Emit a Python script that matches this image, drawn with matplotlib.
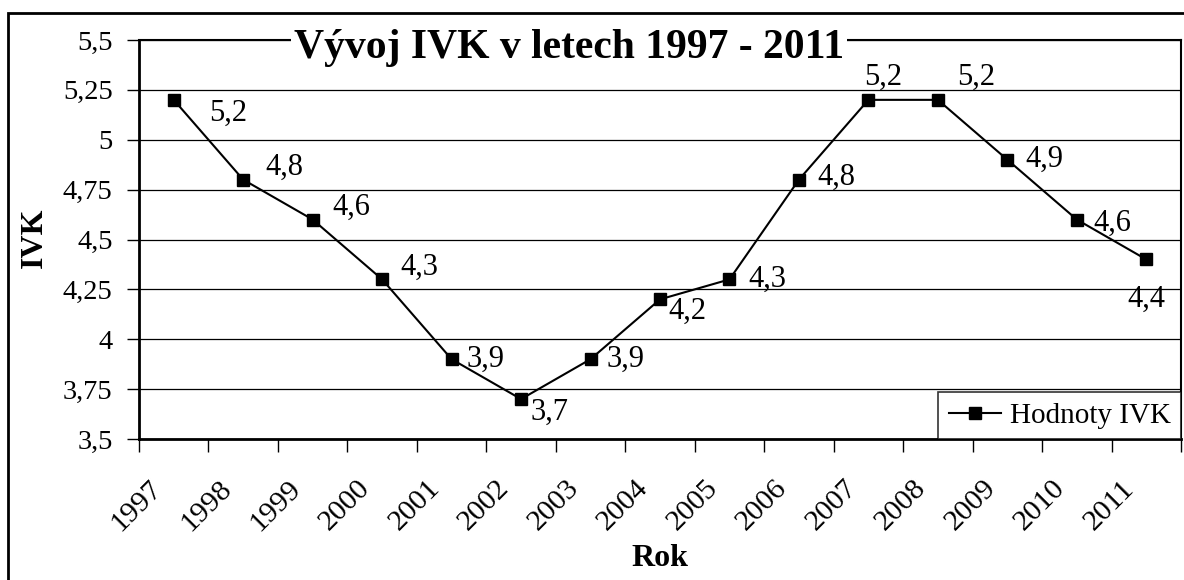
import matplotlib.pyplot as plt
import matplotlib.patches as patches

years = ['1997', '1998', '1999', '2000', '2001', '2002', '2003', '2004',
         '2005', '2006', '2007', '2008', '2009', '2010', '2011']
ivk = [5.2, 4.8, 4.6, 4.3, 3.9, 3.7, 3.9, 4.2, 4.3, 4.8, 5.2, 5.2, 4.9, 4.6, 4.4]
y_ticks = [3.5, 3.75, 4.0, 4.25, 4.5, 4.75, 5.0, 5.25, 5.5]

# label offsets in pixels (hand placed like in the original sheet)
label_dx = [54, 41, 39, 37, 34, 28, 35, 27, 38, 37, 15, 38, 37, 36, 0]
label_dy = [-13, 12, 12, 12, 0, -13, 0, -12, 0, 2, 23, 23, 0, -4, -40]

plt.rcParams['font.family'] = ['Liberation Serif', 'DejaVu Serif']

fig = plt.figure(figsize=(11.84, 5.8), dpi=100)
ax = fig.add_axes([139 / 1184, 1 - 439 / 580, (1181 - 139) / 1184, (439 - 40) / 580])

x = list(range(len(years)))
ax.plot(x, ivk, color='black', lw=1.5, marker='s', markersize=8,
        markerfacecolor='black', markeredgecolor='black', label='Hodnoty IVK',
        zorder=3)

for i, v in enumerate(ivk):
    ax.annotate(f"{v:.1f}".replace('.', ','), (i, v), xytext=(label_dx[i], label_dy[i]),
                textcoords='offset pixels', ha='center', va='center', fontsize=22)

ax.set_xlim(-0.5, len(years) - 0.5)
ax.set_ylim(3.5, 5.5)
ax.set_yticks(y_ticks)
ax.set_yticklabels([f"{t:g}".replace('.', ',') for t in y_ticks], fontsize=20.5)
ax.yaxis.grid(True, color='black', lw=0.9)
ax.set_axisbelow(True)

# ticks on category boundaries, labels (slightly left of) the middle
ax.set_xticks([i - 0.5 for i in range(len(years) + 1)])
ax.set_xticklabels([])
ax.set_xticks([i - 0.36 for i in x], minor=True)
ax.set_xticklabels(years, minor=True, rotation=45, ha='right', va='top',
                   rotation_mode='anchor', fontsize=21.5)
ax.tick_params(axis='x', which='major', length=9, width=1, direction='out')
ax.tick_params(axis='x', which='minor', length=0, pad=26)
ax.tick_params(axis='y', length=9, width=1, direction='out', pad=10)

for side in ['left', 'bottom']:
    ax.spines[side].set_linewidth(2)
for side in ['top', 'right']:
    ax.spines[side].set_linewidth(1.5)

ax.set_ylabel('IVK', fontsize=23, fontweight='bold')
ax.set_xlabel('Rok', fontsize=23, fontweight='bold')
ax.yaxis.set_label_coords(-105 / 1042, 0.504)
ax.xaxis.set_label_coords(0.5, -119 / 399)
ax.yaxis.label.set_va('center')
ax.xaxis.label.set_va('center')

leg = ax.legend(loc='lower right', fontsize=21, frameon=True, fancybox=False,
                borderaxespad=0, handlelength=1.8, handletextpad=0.3,
                borderpad=0.35)
leg.get_frame().set_edgecolor('black')
leg.get_frame().set_linewidth(1.2)

fig.text(569 / 1184, 1 - 48 / 580, 'Vývoj IVK v letech 1997 - 2011',
         fontsize=30, fontweight='bold', ha='center', va='center',
         bbox=dict(fc='white', ec='none', pad=2))

# outer chart border (right and bottom edges fall outside the image)
fig.patches.append(patches.Rectangle((8 / 1184, -0.05), 1.1, 1.05 - 13 / 580,
                                     transform=fig.transFigure, fill=False,
                                     ec='black', lw=2))

fig.savefig('out.png', dpi=100)
